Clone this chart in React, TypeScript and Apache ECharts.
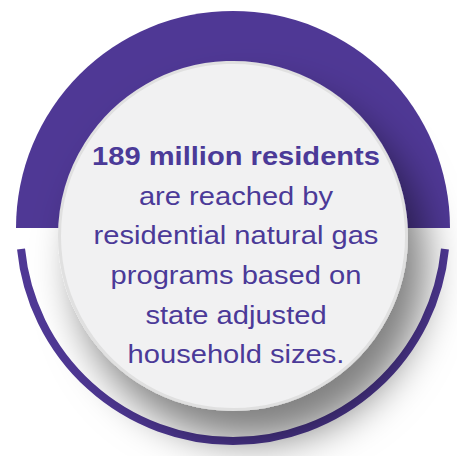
import React, { useEffect, useRef } from "react";
import * as echarts from "echarts";

const headlineValue = [189];
const headlineUnit = ["million residents"];
const bodyLines = [
  "are reached by",
  "residential natural gas",
  "programs based on",
  "state adjusted",
  "household sizes.",
];

const PURPLE = "#4f3895";
const TEXT = "#4b3a98";

export default function App() {
  const ref = useRef<HTMLDivElement>(null);
  useEffect(() => {
    if (!ref.current) return;
    const chart = echarts.init(ref.current, null, { renderer: "svg" });
    const cx = 233;
    const cy = 228;
    const lines = [`${headlineValue[0]} ${headlineUnit[0]}`, ...bodyLines];
    const firstBaseline = 165;
    const step = 39.7;
    const fontSize = 26;
    const texts = lines.map((t, i) => ({
      type: "text",
      x: 236,
      y: firstBaseline + i * step - 9,
      scaleX: 1.12,
      z: 10,
      style: {
        text: t,
        fill: TEXT,
        font: `${i === 0 ? "bold " : ""}${fontSize}px "Liberation Sans", Arial, sans-serif`,
        align: "center",
        verticalAlign: "middle",
      },
    }));
    const a0 = Math.asin(21 / 213);
    chart.setOption({
      animation: false,
      backgroundColor: "#ffffff",
      graphic: [
        {
          type: "sector",
          z: 1,
          shape: { cx, cy, r: 217, r0: 0, startAngle: Math.PI, endAngle: 2 * Math.PI, clockwise: true },
          style: { fill: PURPLE },
        },
        {
          type: "arc",
          z: 1,
          shape: { cx, cy, r: 213, startAngle: a0, endAngle: Math.PI - a0, clockwise: true },
          style: { stroke: PURPLE, lineWidth: 8, fill: "none" },
        },
        {
          type: "circle",
          z: 5,
          shape: { cx: 233, cy: 236, r: 173.5 },
          style: {
            fill: "#f1f1f2",
            stroke: "#e0e0e0",
            lineWidth: 3,
            shadowBlur: 40,
            shadowOffsetX: 18,
            shadowOffsetY: 30,
            shadowColor: "rgba(0,0,0,0.5)",
          },
        },
        ...texts,
      ],
    });
    return () => chart.dispose();
  }, []);
  return (
    <div
      ref={ref}
      style={{ position: "fixed", left: 0, top: 0, width: 457, height: 456, background: "#fff" }}
    />
  );
}
